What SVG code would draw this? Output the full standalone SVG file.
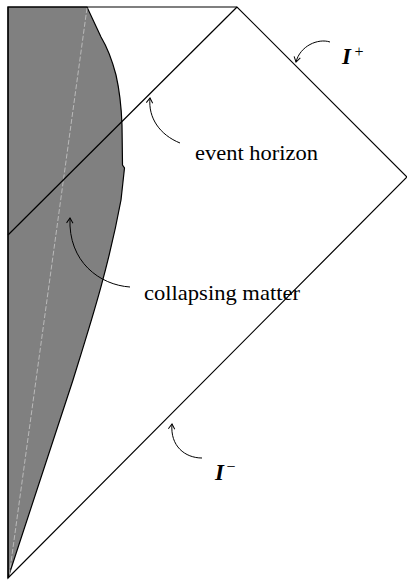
<svg xmlns="http://www.w3.org/2000/svg" width="407" height="580" viewBox="0 0 407 580">
<style>
.ln{fill:none;stroke:#000;stroke-width:1.2}
.arr{fill:none;stroke:#000;stroke-width:1;marker-end:url(#ah)}
text{font-family:'Liberation Serif','Times New Roman','DejaVu Serif',serif;fill:#000}
.lbl{font-size:21px}
.sym{font-style:italic;font-size:23px}
.sup{font-size:16px}
</style>
<defs>
<marker id="ah" markerWidth="10" markerHeight="10" refX="0" refY="0" viewBox="-6 -5 8 10" orient="auto" markerUnits="userSpaceOnUse">
<path d="M-5,-3.2 L0,0 L-5,3.2" fill="none" stroke="#000" stroke-width="1"/>
</marker>
</defs>
<rect width="407" height="580" fill="#fff"/>
<g id="matter">
<path d="M8,7 L87,7 L101,37 Q110,52 116,75 Q121,97 122,125 L122.5,165 L124.5,168 L121,200 C108,270 90,325 73,380 L8,578 Z" fill="#808080" stroke="#000" stroke-width="1.2"/>
<line x1="87" y1="8" x2="9" y2="577" stroke="#c8c8c8" stroke-width="0.8" stroke-dasharray="5,2"/>
</g>
<g id="spacetime">
<path class="ln" d="M8,7 L237,7 L407,177 L8,578 Z"/>
</g>
<g id="horizon">
<line class="ln" x1="8" y1="235" x2="237" y2="7"/>
</g>
<g id="connectors">
<path class="arr" d="M330,42 C318,38 300,46 296,62"/>
<path class="arr" d="M180,143 C160,135 148,118 150,98"/>
<path class="arr" d="M130,287 C100,285 68,262 70,218"/>
<path class="arr" d="M202,458 C185,458 170,446 172,424"/>
</g>
<g id="label-scri-plus">
<text class="sym" x="342" y="64" font-weight="600">I</text>
<text class="sup" x="354.5" y="57">+</text>
</g>
<g id="label-event-horizon">
<text class="lbl" x="195" y="160" textLength="123" lengthAdjust="spacingAndGlyphs">event horizon</text>
</g>
<g id="label-collapsing-matter">
<text class="lbl" x="144" y="300" textLength="156" lengthAdjust="spacingAndGlyphs">collapsing matter</text>
</g>
<g id="label-scri-minus">
<text class="sym" x="215" y="480" font-weight="600">I</text>
<text class="sup" x="226.5" y="472">−</text>
</g>
</svg>
